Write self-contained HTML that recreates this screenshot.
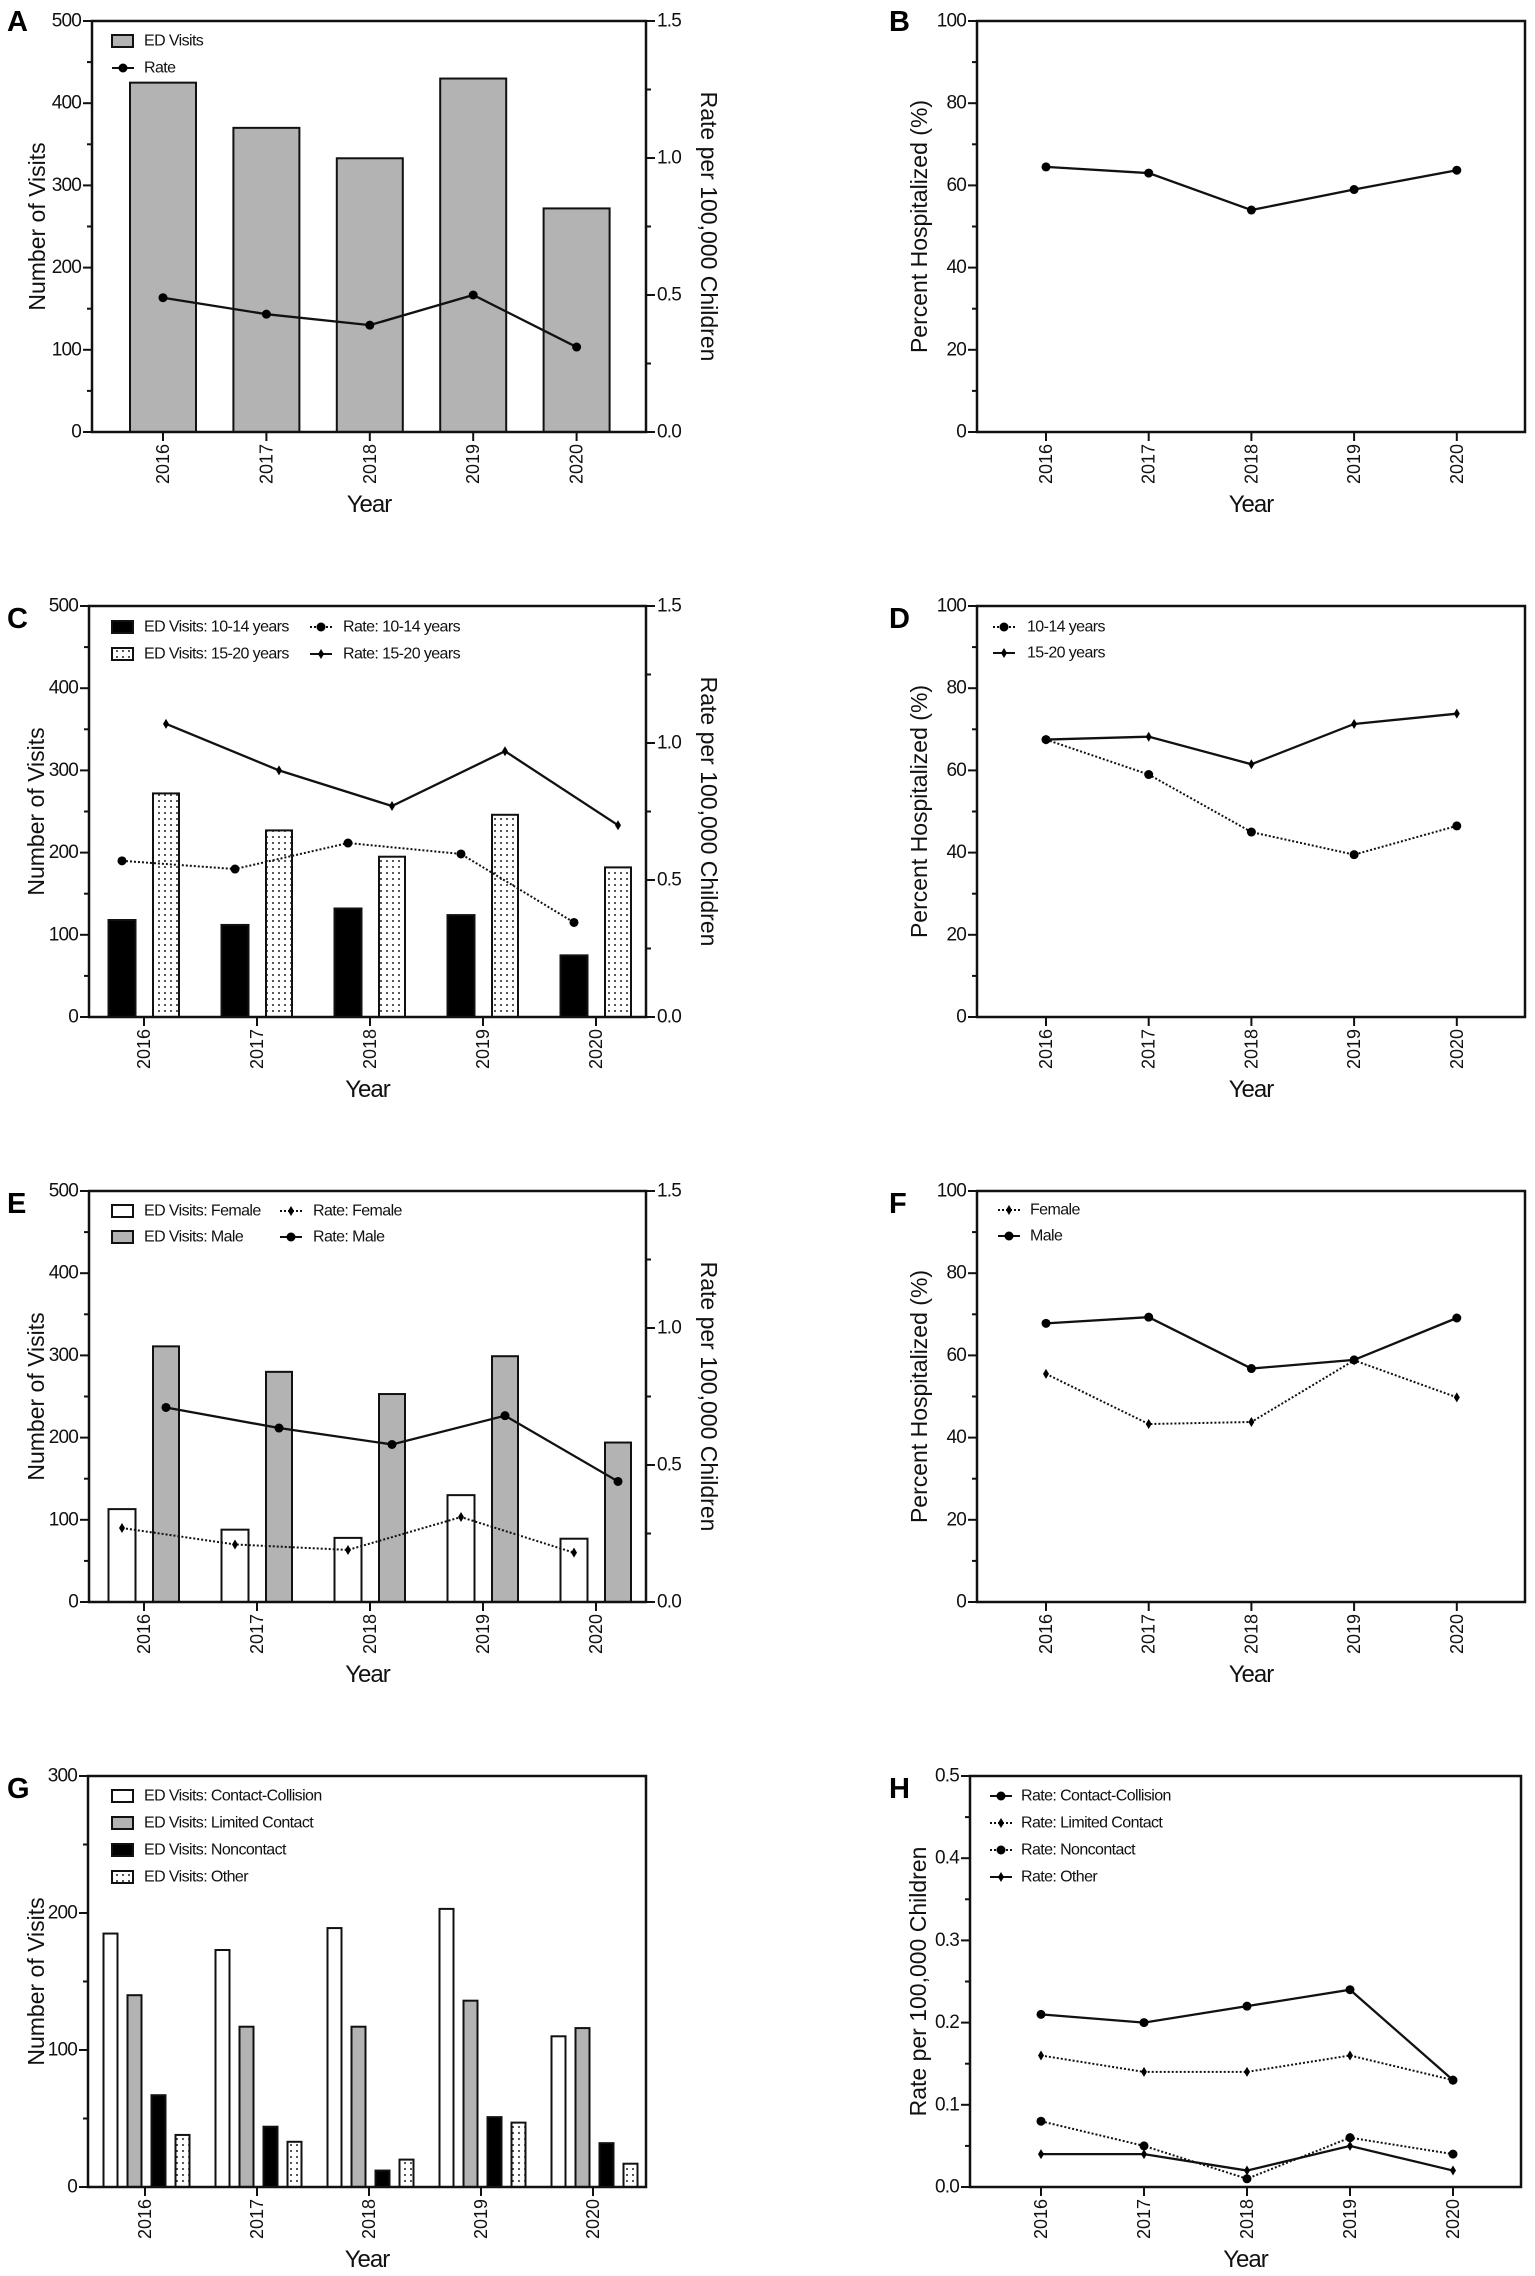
<!DOCTYPE html>
<html><head><meta charset="utf-8"><title>ED visits figure</title>
<style>
html,body{margin:0;padding:0;background:#fff;}
svg{display:block;font-family:"Liberation Sans",Arial,sans-serif;}
.tk{font-size:19px;letter-spacing:-0.8px;fill:#111;}
.yr{font-size:18px;fill:#111;}
.ttl{font-size:23px;fill:#111;}
.xt{font-size:24px;letter-spacing:-1px;fill:#111;}
.lg{font-size:16px;letter-spacing:-0.6px;fill:#111;}
.let{font-size:29px;font-weight:bold;fill:#000;}
</style></head>
<body>
<svg id="fig" width="1535" height="2276" viewBox="0 0 1535 2276" xmlns="http://www.w3.org/2000/svg">
<defs>
<pattern id="dots" width="6" height="6" patternUnits="userSpaceOnUse">
<rect width="6" height="6" fill="#fff"/><circle cx="3" cy="3" r="1" fill="#222"/>
</pattern>
</defs>
</svg>
<script>
const years = ['2016','2017','2018','2019','2020'];
// Panel A
const aVisits = [425, 370, 333, 430, 272];
const aRate = [0.49, 0.43, 0.39, 0.50, 0.31];
// Panel B
const bPct = [64.5, 63, 54, 59, 63.7];
// Panel C
const cVis1014 = [118, 112, 132, 124, 75];
const cVis1520 = [272, 227, 195, 246, 182];
const cRate1014 = [0.57, 0.54, 0.635, 0.595, 0.345];
const cRate1520 = [1.07, 0.90, 0.77, 0.97, 0.70];
// Panel D
const dPct1014 = [67.5, 59, 45, 39.5, 46.5];
const dPct1520 = [67.5, 68.2, 61.5, 71.3, 73.8];
// Panel E
const eVisF = [113, 88, 78, 130, 77];
const eVisM = [311, 280, 253, 299, 194];
const eRateF = [0.27, 0.21, 0.19, 0.31, 0.18];
const eRateM = [0.71, 0.635, 0.575, 0.68, 0.44];
// Panel F
const fPctF = [55.5, 43.3, 43.8, 58.8, 49.8];
const fPctM = [67.8, 69.3, 56.8, 58.9, 69.1];
// Panel G
const gCC = [185, 173, 189, 203, 110];
const gLC = [140, 117, 117, 136, 116];
const gNC = [67, 44, 12, 51, 32];
const gOther = [38, 33, 20, 47, 17];
// Panel H
const hCC = [0.21, 0.20, 0.22, 0.24, 0.13];
const hLC = [0.16, 0.14, 0.14, 0.16, 0.13];
const hNC = [0.08, 0.05, 0.01, 0.06, 0.04];
const hOther = [0.04, 0.04, 0.02, 0.05, 0.02];
// Ticks
const visitTicks = [0, 100, 200, 300, 400, 500];
const visitMinor = [50, 150, 250, 350, 450];
const rateTicks = [0, 0.5, 1.0, 1.5];
const rateTickLabels = ['0.0', '0.5', '1.0', '1.5'];
const rateMinor = [0.25, 0.75, 1.25];
const pctTicks = [0, 20, 40, 60, 80, 100];
const pctMinor = [10, 30, 50, 70, 90];
const gTicks = [0, 100, 200, 300];
const gMinor = [50, 150, 250];
const hTicks = [0, 0.1, 0.2, 0.3, 0.4, 0.5];
const hTickLabels = ['0.0', '0.1', '0.2', '0.3', '0.4', '0.5'];
const hMinor = [0.05, 0.15, 0.25, 0.35, 0.45];

const NS = 'http://www.w3.org/2000/svg';
const svg = document.getElementById('fig');
const H = 411;

function mk(tag, attrs, name, parent) {
  const el = document.createElementNS(NS, tag);
  for (const k in attrs) el.setAttribute(k, attrs[k]);
  
  
  (parent || svg).appendChild(el);
  return el;
}
function txt(x, y, s, cls, name, extra) {
  const el = mk('text', Object.assign({x: x, y: y, class: cls}, extra || {}), name);
  el.textContent = s;
  return el;
}
function yScale(top, max) { return v => top + H - v / max * H; }

function frame(p, name) {
  mk('rect', {x: p.l, y: p.t, width: p.r - p.l, height: H, fill: 'none', stroke: '#111', 'stroke-width': 2.5}, name + '-frame');
}
function leftAxis(p, sc, ticks, labels, minor, name) {
  ticks.forEach((v, i) => {
    const y = sc(v);
    mk('line', {x1: p.l - 9, x2: p.l, y1: y, y2: y, stroke: '#111', 'stroke-width': 2}, name + '-y-tick');
    txt(p.l - 11, y, labels[i], 'tk', name + '-y-tick-label', {'text-anchor': 'end', 'dominant-baseline': 'central'});
  });
  minor.forEach(v => {
    const y = sc(v);
    mk('line', {x1: p.l - 5, x2: p.l, y1: y, y2: y, stroke: '#111', 'stroke-width': 2}, name + '-y-minor-tick');
  });
}
function rightAxis(p, sc, ticks, labels, minor, name) {
  ticks.forEach((v, i) => {
    const y = sc(v);
    mk('line', {x1: p.r, x2: p.r + 9, y1: y, y2: y, stroke: '#111', 'stroke-width': 2}, name + '-y2-tick');
    txt(p.r + 11, y, labels[i], 'tk', name + '-y2-tick-label', {'text-anchor': 'start', 'dominant-baseline': 'central'});
  });
  minor.forEach(v => {
    const y = sc(v);
    mk('line', {x1: p.r, x2: p.r + 5, y1: y, y2: y, stroke: '#111', 'stroke-width': 2}, name + '-y2-minor-tick');
  });
}
function xAxis(p, name) {
  years.forEach((yv, i) => {
    const cx = p.x0 + i * p.dx;
    const b = p.t + H;
    mk('line', {x1: cx, x2: cx, y1: b, y2: b + 9, stroke: '#111', 'stroke-width': 2}, name + '-x-tick');
    txt(0, 0, yv, 'yr', name + '-x-tick-label', {'text-anchor': 'end', 'dominant-baseline': 'central', transform: 'translate(' + cx + ',' + (b + 12) + ') rotate(-90)'});
  });
  txt((p.l + p.r) / 2, p.t + H + 80, 'Year', 'xt', name + '-x-axis-title', {'text-anchor': 'middle'});
}
function yTitle(x, y, s, rot, name) {
  txt(0, 0, s, 'ttl', name, {'text-anchor': 'middle', 'dominant-baseline': 'central', transform: 'translate(' + x + ',' + y + ') rotate(' + rot + ')'});
}
function bars(p, sc, vals, off, w, fill, name) {
  vals.forEach((v, i) => {
    const cx = p.x0 + i * p.dx + off;
    const y = sc(v);
    mk('rect', {x: cx - w / 2, y: y, width: w, height: p.t + H - y, fill: fill, stroke: '#111', 'stroke-width': 2}, name);
  });
}
function marker(x, y, type, name) {
  if (type === 'circle') mk('circle', {cx: x, cy: y, r: 4.5, fill: '#000'}, name);
  else mk('path', {d: 'M' + x + ' ' + (y - 5) + 'L' + (x + 3) + ' ' + y + 'L' + x + ' ' + (y + 5) + 'L' + (x - 3) + ' ' + y + 'Z', fill: '#000'}, name);
}
function series(p, sc, vals, off, dotted, mtype, name) {
  const pts = vals.map((v, i) => [p.x0 + i * p.dx + off, sc(v)]);
  const attrs = {points: pts.map(q => q.join(',')).join(' '), fill: 'none', stroke: '#111', 'stroke-width': dotted ? 2 : 2.3};
  if (dotted) attrs['stroke-dasharray'] = '2,2';
  mk('polyline', attrs, name + '-line');
  pts.forEach(q => marker(q[0], q[1], mtype, name + '-point'));
}
function legBox(x, y, fill, label, name) {
  mk('rect', {x: x, y: y - 6, width: 21, height: 12, fill: fill, stroke: '#111', 'stroke-width': 2}, name + '-swatch');
  txt(x + 32, y, label, 'lg', name + '-label', {'dominant-baseline': 'central'});
}
function legLine(x, y, dotted, mtype, label, tx, name) {
  const a = {x1: x, x2: x + 22, y1: y, y2: y, stroke: '#111', 'stroke-width': 2};
  if (dotted) a['stroke-dasharray'] = '2,2';
  mk('line', a, name + '-swatch');
  marker(x + 11, y, mtype, name + '-marker');
  txt(tx, y, label, 'lg', name + '-label', {'dominant-baseline': 'central'});
}

const tops = [21, 606, 1191, 1776];

// ---------- Panel A ----------
(function () {
  const p = {l: 92, r: 646, t: tops[0], x0: 163, dx: 103.4};
  const sL = yScale(p.t, 500), sR = yScale(p.t, 1.5);
  bars(p, sL, aVisits, 0, 66, '#b3b3b3', 'a-visit-bar');
  series(p, sR, aRate, 0, false, 'circle', 'a-rate');
  frame(p, 'a');
  leftAxis(p, sL, visitTicks, visitTicks.map(String), visitMinor, 'a');
  rightAxis(p, sR, rateTicks, rateTickLabels, rateMinor, 'a');
  xAxis(p, 'a');
  yTitle(p.l - 55, p.t + H / 2, 'Number of Visits', -90, 'a-y-axis-title');
  yTitle(p.r + 63, p.t + H / 2, 'Rate per 100,000 Children', 90, 'a-y2-axis-title');
  legBox(p.l + 20, p.t + 20, '#b3b3b3', 'ED Visits', 'a-legend-visits');
  legLine(p.l + 20, p.t + 47, false, 'circle', 'Rate', p.l + 52, 'a-legend-rate');
  txt(7, 31, 'A', 'let', 'panel-label-a');
})();

// ---------- Panel B ----------
(function () {
  const p = {l: 977, r: 1525, t: tops[0], x0: 1046, dx: 102.7};
  const s = yScale(p.t, 100);
  series(p, s, bPct, 0, false, 'circle', 'b-percent');
  frame(p, 'b');
  leftAxis(p, s, pctTicks, pctTicks.map(String), pctMinor, 'b');
  xAxis(p, 'b');
  yTitle(p.l - 58, p.t + H / 2, 'Percent Hospitalized (%)', -90, 'b-y-axis-title');
  txt(889, 31, 'B', 'let', 'panel-label-b');
})();

// ---------- Panel C ----------
(function () {
  const p = {l: 89, r: 646, t: tops[1], x0: 144, dx: 113};
  const sL = yScale(p.t, 500), sR = yScale(p.t, 1.5);
  bars(p, sL, cVis1014, -22, 27, '#000', 'c-visit-bar-10-14');
  bars(p, sL, cVis1520, 22, 26, 'url(#dots)', 'c-visit-bar-15-20');
  series(p, sR, cRate1014, -22, true, 'circle', 'c-rate-10-14');
  series(p, sR, cRate1520, 22, false, 'diamond', 'c-rate-15-20');
  frame(p, 'c');
  leftAxis(p, sL, visitTicks, visitTicks.map(String), visitMinor, 'c');
  rightAxis(p, sR, rateTicks, rateTickLabels, rateMinor, 'c');
  xAxis(p, 'c');
  yTitle(p.l - 53, p.t + H / 2, 'Number of Visits', -90, 'c-y-axis-title');
  yTitle(p.r + 63, p.t + H / 2, 'Rate per 100,000 Children', 90, 'c-y2-axis-title');
  legBox(p.l + 23, p.t + 21, '#000', 'ED Visits: 10-14 years', 'c-legend-visits-10-14');
  legBox(p.l + 23, p.t + 48, 'url(#dots)', 'ED Visits: 15-20 years', 'c-legend-visits-15-20');
  legLine(p.l + 221, p.t + 21, true, 'circle', 'Rate: 10-14 years', p.l + 254, 'c-legend-rate-10-14');
  legLine(p.l + 221, p.t + 48, false, 'diamond', 'Rate: 15-20 years', p.l + 254, 'c-legend-rate-15-20');
  txt(7, p.t + 22, 'C', 'let', 'panel-label-c');
})();

// ---------- Panel D ----------
(function () {
  const p = {l: 977, r: 1525, t: tops[1], x0: 1046, dx: 102.7};
  const s = yScale(p.t, 100);
  series(p, s, dPct1014, 0, true, 'circle', 'd-percent-10-14');
  series(p, s, dPct1520, 0, false, 'diamond', 'd-percent-15-20');
  frame(p, 'd');
  leftAxis(p, s, pctTicks, pctTicks.map(String), pctMinor, 'd');
  xAxis(p, 'd');
  yTitle(p.l - 58, p.t + H / 2, 'Percent Hospitalized (%)', -90, 'd-y-axis-title');
  legLine(p.l + 16, p.t + 21, true, 'circle', '10-14 years', p.l + 50, 'd-legend-10-14');
  legLine(p.l + 16, p.t + 47, false, 'diamond', '15-20 years', p.l + 50, 'd-legend-15-20');
  txt(889, p.t + 22, 'D', 'let', 'panel-label-d');
})();

// ---------- Panel E ----------
(function () {
  const p = {l: 89, r: 646, t: tops[2], x0: 144, dx: 113};
  const sL = yScale(p.t, 500), sR = yScale(p.t, 1.5);
  bars(p, sL, eVisF, -22, 27, '#fff', 'e-visit-bar-female');
  bars(p, sL, eVisM, 22, 26, '#b3b3b3', 'e-visit-bar-male');
  series(p, sR, eRateF, -22, true, 'diamond', 'e-rate-female');
  series(p, sR, eRateM, 22, false, 'circle', 'e-rate-male');
  frame(p, 'e');
  leftAxis(p, sL, visitTicks, visitTicks.map(String), visitMinor, 'e');
  rightAxis(p, sR, rateTicks, rateTickLabels, rateMinor, 'e');
  xAxis(p, 'e');
  yTitle(p.l - 53, p.t + H / 2, 'Number of Visits', -90, 'e-y-axis-title');
  yTitle(p.r + 63, p.t + H / 2, 'Rate per 100,000 Children', 90, 'e-y2-axis-title');
  legBox(p.l + 23, p.t + 20, '#fff', 'ED Visits: Female', 'e-legend-visits-female');
  legBox(p.l + 23, p.t + 46, '#b3b3b3', 'ED Visits: Male', 'e-legend-visits-male');
  legLine(p.l + 191, p.t + 20, true, 'diamond', 'Rate: Female', p.l + 224, 'e-legend-rate-female');
  legLine(p.l + 191, p.t + 46, false, 'circle', 'Rate: Male', p.l + 224, 'e-legend-rate-male');
  txt(7, p.t + 22, 'E', 'let', 'panel-label-e');
})();

// ---------- Panel F ----------
(function () {
  const p = {l: 977, r: 1525, t: tops[2], x0: 1046, dx: 102.7};
  const s = yScale(p.t, 100);
  series(p, s, fPctF, 0, true, 'diamond', 'f-percent-female');
  series(p, s, fPctM, 0, false, 'circle', 'f-percent-male');
  frame(p, 'f');
  leftAxis(p, s, pctTicks, pctTicks.map(String), pctMinor, 'f');
  xAxis(p, 'f');
  yTitle(p.l - 58, p.t + H / 2, 'Percent Hospitalized (%)', -90, 'f-y-axis-title');
  legLine(p.l + 21, p.t + 19, true, 'diamond', 'Female', p.l + 53, 'f-legend-female');
  legLine(p.l + 21, p.t + 45, false, 'circle', 'Male', p.l + 53, 'f-legend-male');
  txt(889, p.t + 22, 'F', 'let', 'panel-label-f');
})();

// ---------- Panel G ----------
(function () {
  const p = {l: 88, r: 646, t: tops[3], x0: 145, dx: 112};
  const s = yScale(p.t, 300);
  const fills = ['#fff', '#b3b3b3', '#000', 'url(#dots)'];
  const sets = [gCC, gLC, gNC, gOther];
  const names = ['g-bar-contact-collision', 'g-bar-limited-contact', 'g-bar-noncontact', 'g-bar-other'];
  sets.forEach((vals, k) => bars(p, s, vals, (k - 1.5) * 24 + 1.5, 14, fills[k], names[k]));
  frame(p, 'g');
  leftAxis(p, s, gTicks, gTicks.map(String), gMinor, 'g');
  xAxis(p, 'g');
  yTitle(p.l - 52, p.t + H / 2, 'Number of Visits', -90, 'g-y-axis-title');
  const labels = ['ED Visits: Contact-Collision', 'ED Visits: Limited Contact', 'ED Visits: Noncontact', 'ED Visits: Other'];
  const lnames = ['g-legend-contact-collision', 'g-legend-limited-contact', 'g-legend-noncontact', 'g-legend-other'];
  labels.forEach((lb, k) => legBox(p.l + 24, p.t + 20 + 27 * k, fills[k], lb, lnames[k]));
  txt(7, p.t + 22, 'G', 'let', 'panel-label-g');
})();

// ---------- Panel H ----------
(function () {
  const p = {l: 970, r: 1521, t: tops[3], x0: 1041, dx: 103};
  const s = yScale(p.t, 0.5);
  series(p, s, hCC, 0, false, 'circle', 'h-rate-contact-collision');
  series(p, s, hLC, 0, true, 'diamond', 'h-rate-limited-contact');
  series(p, s, hNC, 0, true, 'circle', 'h-rate-noncontact');
  series(p, s, hOther, 0, false, 'diamond', 'h-rate-other');
  frame(p, 'h');
  leftAxis(p, s, hTicks, hTickLabels, hMinor, 'h');
  xAxis(p, 'h');
  yTitle(p.l - 52, p.t + H / 2, 'Rate per 100,000 Children', -90, 'h-y-axis-title');
  legLine(p.l + 20, p.t + 20, false, 'circle', 'Rate: Contact-Collision', p.l + 51, 'h-legend-contact-collision');
  legLine(p.l + 20, p.t + 47, true, 'diamond', 'Rate: Limited Contact', p.l + 51, 'h-legend-limited-contact');
  legLine(p.l + 20, p.t + 74, true, 'circle', 'Rate: Noncontact', p.l + 51, 'h-legend-noncontact');
  legLine(p.l + 20, p.t + 101, false, 'diamond', 'Rate: Other', p.l + 51, 'h-legend-other');
  txt(889, p.t + 22, 'H', 'let', 'panel-label-h');
})();
</script>
</body></html>
